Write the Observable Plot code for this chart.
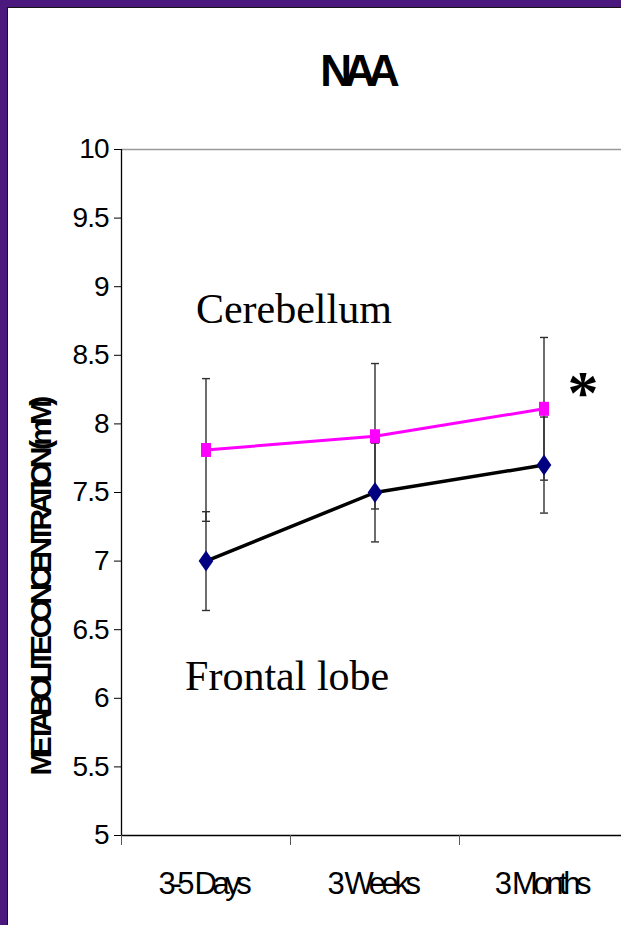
<!DOCTYPE html>
<html>
<head>
<meta charset="utf-8">
<script src="https://cdn.jsdelivr.net/npm/d3@7"></script>
<script src="https://cdn.jsdelivr.net/npm/@observablehq/plot@0.6"></script>
<style>
  html, body { margin: 0; padding: 0; background: #fff; overflow: hidden; }
  #page { position: relative; width: 621px; height: 925px; overflow: hidden; font-family: "Liberation Sans", Arial, sans-serif; }
  #edge-top { position: absolute; left: 0; top: 0; width: 621px; height: 7px; background: #4b197d; border-bottom: 1px solid #141414; z-index: 2; }
  #edge-left { position: absolute; left: 0; top: 7px; width: 7px; height: 918px; background: #4b197d; border-right: 1px solid #141414; z-index: 2; }
  #title { position: relative; height: 130px; }
  #title span { position: absolute; left: 356px; top: 49px; transform: translateX(-50%); font: bold 44px/44px "Liberation Sans", Arial, sans-serif; letter-spacing: -8px; color: #000; white-space: nowrap; }
  #chart svg [aria-label="y-axis tick label"] text { letter-spacing: -1px; }
  #chart svg [aria-label="x-axis tick label"] text { letter-spacing: -4.4px; }
</style>
</head>
<body>
<div id="page">
  <div id="edge-top"></div>
  <div id="edge-left"></div>
  <div id="title"><span>NAA</span></div>
  <div id="chart"></div>
</div>
<script>
// NAA concentration by age, two brain regions (mean ± error)
const categories = ["3-5 Days", "3 Weeks", "3 Months"];
const cerebellum = [7.81, 7.91, 8.11];
const cerebellumErr = [0.52, 0.53, 0.52];
const frontal = [7.00, 7.50, 7.70];
const frontalErr = [0.36, 0.36, 0.35];
const yTicks = [5, 5.5, 6, 6.5, 7, 7.5, 8, 8.5, 9, 9.5, 10];
const yLabel = "METABOLITE CONCENTRATION (mM)";
const seriesNames = ["Cerebellum", "Frontal lobe"];
const significance = "*";

// each category occupies one unit band on x; points sit at the band centres
const rows = categories.flatMap((c, i) => [
  {series: seriesNames[0], pos: i + 0.5, value: cerebellum[i], err: cerebellumErr[i]},
  {series: seriesNames[1], pos: i + 0.5, value: frontal[i], err: frontalErr[i]}
]);
const cereRows = rows.filter(d => d.series === seriesNames[0]);
const frontRows = rows.filter(d => d.series === seriesNames[1]);
const bandEdges = d3.range(categories.length + 1);
const bandCentres = categories.map((c, i) => i + 0.5);

// custom marker shapes (size = π r²)
const radius = size => Math.sqrt(size / Math.PI);
const capSymbol = {draw(ctx, size) { const r = radius(size); ctx.moveTo(-r, 0); ctx.lineTo(r, 0); }};
const tallSquare = {draw(ctx, size) { const r = radius(size); ctx.rect(-r * 5 / 7, -r, r * 10 / 7, 2 * r); }};
const tallDiamond = {draw(ctx, size) {
  const r = radius(size);
  ctx.moveTo(0, -r); ctx.lineTo(0.7 * r, 0); ctx.lineTo(0, r); ctx.lineTo(-0.7 * r, 0); ctx.closePath();
}};

const errColor = "#303030";
const serif = "'Liberation Serif', 'Times New Roman', serif";

const chart = Plot.plot({
  width: 621,
  height: 795,
  marginTop: 19,
  marginBottom: 90,
  marginLeft: 121,
  marginRight: 0,
  style: {fontFamily: "'Liberation Sans', Arial, sans-serif", color: "#000", background: "transparent"},
  x: {domain: [0, categories.length], range: [121, 121 + 169 * categories.length], label: null},
  y: {domain: [yTicks[0], yTicks[yTicks.length - 1]], label: null},
  marks: [
    // top edge of the plot area
    Plot.ruleY([yTicks[yTicks.length - 1]], {stroke: "#9a9a9a", strokeWidth: 1.5}),
    // error bars
    Plot.ruleX(rows, {x: "pos", y1: d => d.value - d.err, y2: d => d.value + d.err, stroke: errColor, strokeWidth: 1.4}),
    Plot.dot(rows, {x: "pos", y: d => d.value - d.err, symbol: capSymbol, r: 4, fill: "none", stroke: errColor, strokeWidth: 1.4}),
    Plot.dot(rows, {x: "pos", y: d => d.value + d.err, symbol: capSymbol, r: 4, fill: "none", stroke: errColor, strokeWidth: 1.4}),
    // series lines
    Plot.line(cereRows, {x: "pos", y: "value", stroke: "#ff00ff", strokeWidth: 3}),
    Plot.line(frontRows, {x: "pos", y: "value", stroke: "#000000", strokeWidth: 3.5}),
    // markers
    Plot.dot(cereRows, {x: "pos", y: "value", symbol: tallSquare, r: 7, fill: "#ff00ff", stroke: "none"}),
    Plot.dot(frontRows, {x: "pos", y: "value", symbol: tallDiamond, r: 10.5, fill: "#000080", stroke: "none"}),
    // axes
    Plot.axisY({ticks: yTicks, tickSize: 7, tickPadding: 6, tickFormat: d => String(d), fontSize: 28, label: null, stroke: "#000"}),
    Plot.ruleX([0], {stroke: "#000", strokeWidth: 1.3}),
    Plot.ruleY([yTicks[0]], {stroke: "#000", strokeWidth: 1.3}),
    Plot.axisX({ticks: bandEdges, tickSize: 10, tickFormat: () => "", stroke: "#555", label: null}),
    Plot.axisX({ticks: bandCentres, tickSize: 0, tickPadding: 36, dx: -3, tickFormat: t => categories[Math.floor(t)], fontSize: 31, label: null}),
    // y-axis title
    Plot.text([yLabel], {text: d => d, frameAnchor: "left", textAnchor: "middle", rotate: -90, dx: -80, dy: 96, fontSize: 30, fontWeight: "bold"}),
    // series labels
    Plot.text([seriesNames[0]], {text: d => d, x: 1.02, y: 8.83, fontSize: 42, fontFamily: serif}),
    Plot.text([seriesNames[1]], {text: d => d, x: 0.98, y: 6.16, fontSize: 42, fontFamily: serif}),
    // significance marker beside the last cerebellum point
    Plot.text([cereRows[cereRows.length - 1]], {text: () => significance, x: "pos", y: "value", dx: 39, dy: -16, fontSize: 62, fontWeight: "bold", fontFamily: serif})
  ]
});

// squeeze the long rotated axis title to the height it occupies beside the axis
chart.querySelectorAll("text").forEach(t => {
  if (t.textContent === yLabel) t.style.letterSpacing = "-5.8px";
});

document.getElementById("chart").appendChild(chart);
</script>
</body>
</html>
